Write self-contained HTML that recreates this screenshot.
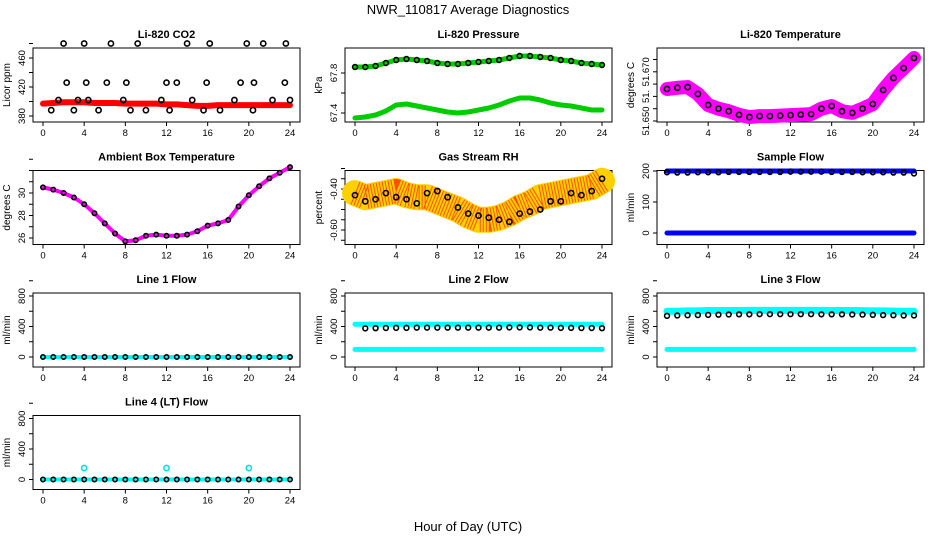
<!DOCTYPE html>
<html><head><meta charset="utf-8">
<style>
body{margin:0;background:#fff}
svg{display:block;font-family:"Liberation Sans",Arial,sans-serif}
.tl{font-size:11px;font-weight:bold;text-anchor:middle}
.tk{font-size:9.5px}
</style></head>
<body>
<svg id="chart" width="936" height="540" viewBox="0 0 936 540" xmlns="http://www.w3.org/2000/svg">
<text x="468" y="14" font-size="13" text-anchor="middle">NWR_110817  Average Diagnostics</text>
<text x="468" y="531" font-size="13" text-anchor="middle">Hour of Day (UTC)</text>
</svg>
<script>
const hours=[0,1,2,3,4,5,6,7,8,9,10,11,12,13,14,15,16,17,18,19,20,21,22,23,24];
const xTicks=[0,4,8,12,16,20,24];
// CO2
const co2Band=[397,398,399,399,399,398,398,398,397,397,397,397,396,396,395,394,394,395,395,395,395,395,395,395,395];
const co2PtH=[0.8,1.5,2,2.3,3,3.4,4,4.2,4.4,5.4,6.2,6.6,7.8,8.1,8.5,9.2,10,11.5,12,12.3,13,14,14.5,15.6,15.9,16.2,17.2,18.6,19.2,19.8,20.4,20.5,21.4,22.3,23.5,23.6,24];
const co2PtV=[388,402,480,426,388,402,480,426,402,388,426,480,402,426,388,480,388,402,426,388,426,480,402,388,426,480,388,402,426,480,388,426,480,402,426,480,402];
// Pressure
const presUp=[67.86,67.86,67.87,67.9,67.93,67.94,67.93,67.92,67.9,67.89,67.89,67.9,67.91,67.92,67.93,67.95,67.97,67.97,67.96,67.95,67.93,67.92,67.9,67.89,67.88];
const presLo=[67.35,67.36,67.38,67.42,67.48,67.49,67.47,67.45,67.43,67.41,67.4,67.41,67.43,67.45,67.48,67.52,67.55,67.55,67.53,67.5,67.48,67.47,67.45,67.43,67.43];
// Li-820 temperature
const tempV=[51.663,51.6635,51.6638,51.661,51.6565,51.655,51.654,51.6525,51.6516,51.652,51.652,51.6522,51.6524,51.6526,51.6528,51.655,51.6561,51.654,51.6533,51.655,51.6569,51.6626,51.6675,51.6715,51.6756];
// Ambient box temp
const ambV=[30.5,30.3,30.0,29.6,29.0,28.2,27.3,26.4,25.7,25.8,26.2,26.3,26.2,26.2,26.3,26.6,27.1,27.3,27.6,28.8,29.8,30.6,31.3,31.8,32.3];
// Gas stream RH
const rhBand=[-0.42,-0.44,-0.43,-0.42,-0.41,-0.43,-0.44,-0.44,-0.46,-0.48,-0.50,-0.53,-0.55,-0.55,-0.54,-0.52,-0.49,-0.47,-0.44,-0.43,-0.42,-0.41,-0.40,-0.39,-0.36];
const rhPtV=[-0.43,-0.46,-0.45,-0.42,-0.44,-0.45,-0.47,-0.42,-0.41,-0.44,-0.49,-0.52,-0.53,-0.54,-0.55,-0.56,-0.52,-0.51,-0.5,-0.46,-0.46,-0.42,-0.43,-0.41,-0.35];
// Sample flow
const sfV=[196,195,195,196,196,196,197,197,197,197,197,197,198,198,198,198,197,197,197,196,196,196,195,195,192];
// Line flows
const l1V=[0,0,0,0,0,0,0,0,0,0,0,0,0,0,0,0,0,0,0,0,0,0,0,0,0];
const l2Hi=[430,430,430,430,430,430,430,430,430,430,430,430,430,430,430,430,430,430,430,430,430,430,430,430,430];
const l2Lo=[100,100,100,100,100,100,100,100,100,100,100,100,100,100,100,100,100,100,100,100,100,100,100,100,100];
const l2Pt=[380,375,378,380,382,382,385,385,385,385,385,385,385,385,385,388,388,388,385,385,382,382,380,380,378];
const l3Hi=[600,600,605,605,610,610,610,610,612,612,612,612,612,612,612,612,610,610,610,608,605,605,602,600,600];
const l3Lo=[100,100,100,100,100,100,100,100,100,100,100,100,100,100,100,100,100,100,100,100,100,100,100,100,100];
const l3Pt=[540,545,548,550,552,555,558,560,560,562,562,562,562,562,562,560,560,560,558,556,553,550,548,545,545];
const l4V=[0,0,0,0,150,0,0,0,0,0,0,0,150,0,0,0,0,0,0,0,150,0,0,0,0];
const l4Pt=[0,0,0,0,0,0,0,0,0,0,0,0,0,0,0,0,0,0,0,0,0,0,0,0,0];

const svg=document.getElementById('chart');
const NS='http://www.w3.org/2000/svg';
function mk(tag,attrs,parent){const e=document.createElementNS(NS,tag);for(const k in attrs)e.setAttribute(k,attrs[k]);(parent||svg).appendChild(e);return e;}

function panel(name,title,col,row,ylab,v0,v1,p0,p1,yticks,ylabels){
  const L=[33,345,657][col], T=48+row*122.5, W=267, H=74;
  const g=mk('g',{});
  
  
  const xs=h=>L+10+h/24*247;
  const ys=v=>p0+(v-v0)*(p1-p0)/(v1-v0);
  const t=mk('text',{x:L+W/2,y:T-10,class:'tl'},g);t.textContent=title;
  
  
  const b=mk('rect',{x:L,y:T,width:W,height:H,fill:'none',stroke:'#000','stroke-width':1},g);
  
  
  xTicks.forEach(h=>{
    mk('line',{x1:xs(h),x2:xs(h),y1:T+H,y2:T+H+4,stroke:'#000'},g);
    const tx=mk('text',{x:xs(h),y:T+H+14,class:'tk','text-anchor':'middle'},g);tx.textContent=h;
    
    
  });
  yticks.forEach((v,i)=>{
    mk('line',{x1:L,x2:L-4,y1:ys(v),y2:ys(v),stroke:'#000'},g);
    if(ylabels[i]){const tx=mk('text',{x:L-8,y:ys(v),class:'tk','text-anchor':'middle',transform:`rotate(-90 ${L-8} ${ys(v)})`},g);tx.textContent=ylabels[i];
      
      }
  });
  const yl=mk('text',{x:L-23,y:T+H/2,'font-size':10,'text-anchor':'middle',transform:`rotate(-90 ${L-23} ${T+H/2})`},g);yl.textContent=ylab;
  
  
  const clip=mk('g',{},g);
  return {g:clip,xs,ys};
}
function band(p,hs,vs,color,w,name){
  const pl=mk('polyline',{points:hs.map((h,i)=>p.xs(h)+','+p.ys(vs[i])).join(' '),fill:'none',stroke:color,'stroke-width':w,'stroke-linecap':'round','stroke-linejoin':'round'},p.g);
  
  
}
function pts(p,hs,vs,color,name,r){
  hs.forEach((h,i)=>{const c=mk('circle',{cx:p.xs(h),cy:p.ys(vs[i]),r:r||2.6,fill:'none',stroke:color,'stroke-width':1.6},p.g);
    
    });
}

let p;
p=panel('co2','Li-820 CO2',0,0,'Licor ppm',380,460,116,58,[380,400,420,440,460,480],['380','','420','','460','']);
band(p,hours,co2Band,'#ff0000',6,'co2-band');
pts(p,co2PtH,co2PtV,'#000','co2-point');

p=panel('pressure','Li-820 Pressure',1,0,'kPa',67.4,67.8,113,73,[67.4,67.6,67.8],['67.4','','67.8']);
band(p,hours,presUp,'#00cc00',5,'pressure-upper-band');
band(p,hours,presLo,'#00cc00',5,'pressure-lower-band');
pts(p,hours,presUp,'#000','pressure-point',2.4);

p=panel('li820-temp','Li-820 Temperature',2,0,'degrees C',51.650,51.670,121,71.8,[51.650,51.655,51.660,51.665,51.670,51.675],['51.650','','51.','','51.670','']);
band(p,hours,tempV,'#ff00ff',14,'li820-temp-band');
pts(p,hours,tempV,'#000','li820-temp-point');

p=panel('ambient','Ambient Box Temperature',0,1,'degrees C',26,30,238,193,[26,27,28,29,30,31,32,33],['26','','28','','30','','','']);
band(p,hours,ambV,'#ff00ff',4,'ambient-band');
pts(p,hours,ambV,'#000','ambient-point',2.2);

p=panel('rh','Gas Stream RH',1,1,'percent',-0.4,-0.6,189,230,[-0.3,-0.35,-0.4,-0.45,-0.5,-0.55,-0.6,-0.65],['','','-0.40','','','','-0.60','']);
band(p,hours,rhBand,'#ffd000',26,'rh-band');
const rb=mk('polyline',{points:hours.map((h,i)=>p.xs(h)+','+p.ys(rhBand[i])).join(' '),fill:'none',stroke:'#ff3000','stroke-width':24,'stroke-dasharray':'1 2','stroke-linejoin':'round','opacity':0.8},p.g);


pts(p,hours,rhPtV,'#000','rh-point');

p=panel('sample-flow','Sample Flow',2,1,'ml/min',0,200,233,171,[0,100,200],['0','100','200']);
band(p,hours,hours.map(()=>200),'#0000ff',5,'sample-flow-upper');
band(p,hours,hours.map(()=>0),'#0000ff',5,'sample-flow-lower');
pts(p,hours,sfV,'#000','sample-flow-point',2.4);

const fT=[0,200,400,600,800,1000], fL=['0','','400','','800',''];
p=panel('line1','Line 1 Flow',0,2,'ml/min',0,800,357,296,fT,fL);
band(p,hours,l1V,'#00ffff',4,'line1-band');
pts(p,hours,l1V,'#000','line1-point',2.2);

p=panel('line2','Line 2 Flow',1,2,'ml/min',0,800,357,296,fT,fL);
band(p,hours,l2Hi,'#00ffff',5,'line2-upper');
band(p,hours,l2Lo,'#00ffff',5,'line2-lower');
pts(p,hours.slice(1),l2Pt.slice(1),'#000','line2-point',2.4);

p=panel('line3','Line 3 Flow',2,2,'ml/min',0,800,357,296,fT,fL);
band(p,hours,l3Hi,'#00ffff',7,'line3-upper');
band(p,hours,l3Lo,'#00ffff',5,'line3-lower');
pts(p,hours,l3Pt,'#000','line3-point',2.4);

p=panel('line4','Line 4 (LT) Flow',0,3,'ml/min',0,800,479.5,418.5,fT,fL);
band(p,hours,l4V.map(()=>0),'#00ffff',4,'line4-band');
pts(p,hours.filter((h,i)=>l4V[i]>0),l4V.filter(v=>v>0),'#00e0e0','line4-spike');
pts(p,hours,l4Pt,'#000','line4-point',2.2);
</script>
</body></html>
